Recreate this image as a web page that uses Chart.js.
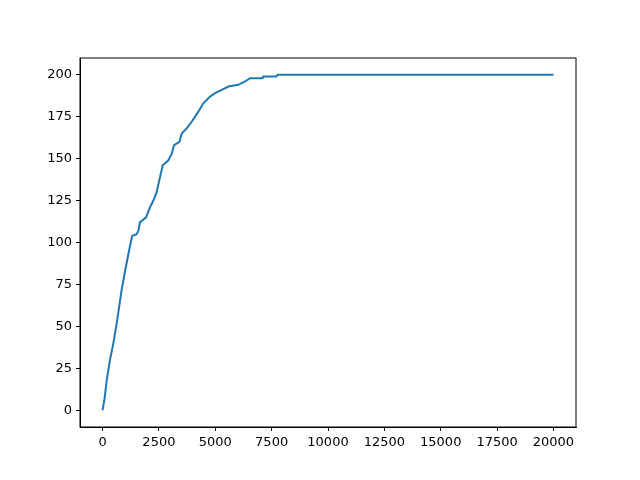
<!DOCTYPE html>
<html>
<head>
<script src="https://cdn.jsdelivr.net/npm/chart.js"></script>
<style>
  html, body { margin: 0; padding: 0; background: #fff; }
  #wrap { width: 640px; height: 480px; }
</style>
</head>
<body>
<div id="wrap"><canvas id="chart"></canvas></div>
<script>
// values
const xValues = [0, 90, 185, 330, 480, 630, 730, 850, 1000, 1145, 1265, 1320, 1515, 1590, 1660, 1930, 2105, 2255, 2400, 2550, 2670, 2920, 3070, 3170, 3410, 3510, 3730, 3955, 4250, 4470, 4770, 4990, 5290, 5580, 6020, 6320, 6540, 7100, 7130, 7700, 7760, 20000];
const yValues = [0, 7, 18, 30, 40, 52, 61, 72, 83, 93, 101, 104, 105, 107, 112, 115, 121, 125, 130, 139, 146, 149, 153, 158, 160, 165, 168, 172, 178, 183, 187, 189, 191, 193, 194, 196, 198, 198, 199, 199, 200, 200];
const xTicks = [0, 2500, 5000, 7500, 10000, 12500, 15000, 17500, 20000];
const yTicks = [0, 25, 50, 75, 100, 125, 150, 175, 200];

const points = xValues.map((x, i) => ({ x: x, y: yValues[i] }));

// draws the top and right spines
const frame = {
  id: 'frame',
  afterDraw(chart) {
    const a = chart.chartArea, c = chart.ctx;
    c.save();
    c.strokeStyle = '#000';
    c.lineWidth = 1;
    c.strokeRect(a.left, a.top, a.right - a.left, a.bottom - a.top);
    c.restore();
  }
};

const tickFont = { family: 'DejaVu Sans', size: 13 };

new Chart(document.getElementById('chart'), {
  type: 'line',
  data: {
    datasets: [{
      data: points,
      borderColor: '#1f77b4',
      borderWidth: 2,
      pointRadius: 0,
      tension: 0,
      fill: false
    }]
  },
  options: {
    responsive: true,
    maintainAspectRatio: false,
    animation: false,
    layout: { padding: { left: 0, right: 64, top: 58, bottom: 0 } },
    plugins: { legend: { display: false }, tooltip: { enabled: false } },
    scales: {
      x: {
        type: 'linear',
        min: -1000,
        max: 21000,
        afterBuildTicks: s => { s.ticks = xTicks.map(v => ({ value: v })); },
        afterFit: s => { s.height = 53; },
        grid: { drawOnChartArea: false, drawTicks: true, tickLength: 4, color: '#000' },
        border: { display: true, color: '#000' },
        ticks: { color: '#000', font: tickFont, padding: 4, maxRotation: 0, autoSkip: false, callback: v => String(v) }
      },
      y: {
        type: 'linear',
        min: -10,
        max: 210,
        afterBuildTicks: s => { s.ticks = yTicks.map(v => ({ value: v })); },
        afterFit: s => { s.width = 80; },
        grid: { drawOnChartArea: false, drawTicks: true, tickLength: 4, color: '#000' },
        border: { display: true, color: '#000' },
        ticks: { color: '#000', font: tickFont, padding: 4, autoSkip: false, callback: v => String(v) }
      }
    }
  },
  plugins: [frame]
});
</script>
</body>
</html>
